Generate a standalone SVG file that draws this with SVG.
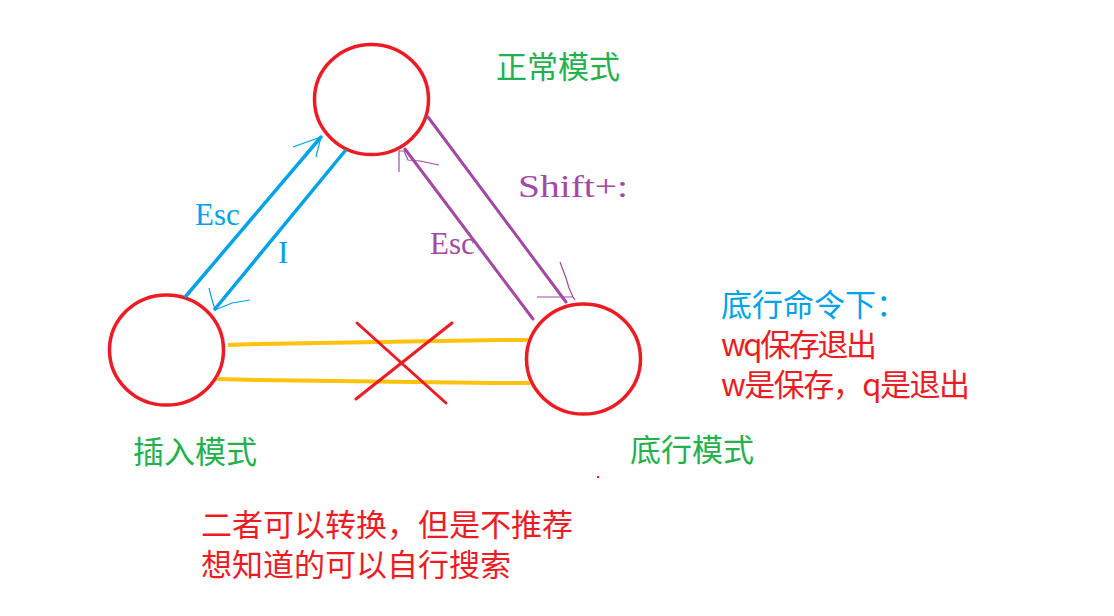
<svg xmlns="http://www.w3.org/2000/svg" width="1114" height="616" viewBox="0 0 1114 616">
<style>
.node{fill:none;stroke:#ed1c24;stroke-width:3.5}
.cjk{font-family:"Noto Sans CJK SC",sans-serif;font-size:31px}
.lat{font-family:"Liberation Serif",serif;font-size:31px}
.green{fill:#22b14c}
.blue{fill:#00a2e8}
.purple{fill:#a349a4}
.red{fill:#ed1c24}
.bl{stroke:#00a2e8;stroke-width:3.5;fill:none;stroke-linecap:round}
.blt{stroke:#00a2e8;stroke-width:1.2;fill:none}
.pl{stroke:#a349a4;stroke-width:3;fill:none;stroke-linecap:round}
.plt{stroke:#a349a4;stroke-width:1.2;fill:none}
.yl{stroke:#ffc20e;stroke-width:4;fill:none}
.x{stroke:#ed1c24;stroke-width:3;fill:none;stroke-linecap:round}
</style>
<rect width="1114" height="616" fill="#ffffff"/>
<g id="normal">
<ellipse class="node" cx="371.5" cy="99.5" rx="57" ry="55"/>
<text class="cjk green" x="496" y="78">正常模式</text>
</g>
<g id="insert">
<ellipse class="node" cx="166.5" cy="350" rx="57" ry="55"/>
<text class="cjk green" x="133" y="463">插入模式</text>
</g>
<g id="bottomline">
<ellipse class="node" cx="583.5" cy="359" rx="57" ry="55"/>
<text class="cjk green" x="630" y="461">底行模式</text>
</g>
<g id="connectors">
<line class="bl" x1="186" y1="296" x2="321" y2="137"/>
<path class="blt" d="M293,147 L321,137 L316,157"/>
<line class="bl" x1="345" y1="151" x2="215" y2="309"/>
<path class="blt" d="M209,288 L211,296 L215,310 L232,303 L250,300"/>
<text class="lat blue" x="195" y="225">Esc</text>
<text class="lat blue" x="278" y="263">I</text>
<line class="pl" x1="428" y1="117" x2="566" y2="302"/>
<path class="plt" d="M537,297 L573,297 M560,262 L566,278 L569,288 L573,297 L575,300"/>
<line class="pl" x1="405" y1="149" x2="533" y2="319"/>
<path class="plt" d="M399,172 L399,151 L404,151 L408,160 L420,161 L439,165"/>
<text class="lat purple" x="430" y="254">Esc</text>
<text class="lat purple" x="518" y="197" textLength="110" lengthAdjust="spacingAndGlyphs">Shift+:</text>
<path class="yl" d="M228,345 L259,344 L319,343 L379,342 L439,341 L499,340 L528,340"/>
<path class="yl" d="M217,379 L257,380 L335,381 L414,382 L493,383 L530,383"/>
<line class="x" x1="357" y1="323" x2="446" y2="403"/>
<line class="x" x1="452" y1="323" x2="356" y2="399"/>
</g>
<g id="notes">
<text class="cjk blue" x="721" y="316">底行命令下：</text>
<text class="cjk red" x="721" y="356" textLength="156">wq保存退出</text>
<text class="cjk red" x="721" y="396" textLength="249">w是保存，q是退出</text>
<rect x="597" y="476" width="2" height="2" fill="#ed1c24"/>
<text class="cjk red" x="201" y="536">二者可以转换，但是不推荐</text>
<text class="cjk red" x="201" y="576">想知道的可以自行搜索</text>
</g>
</svg>
